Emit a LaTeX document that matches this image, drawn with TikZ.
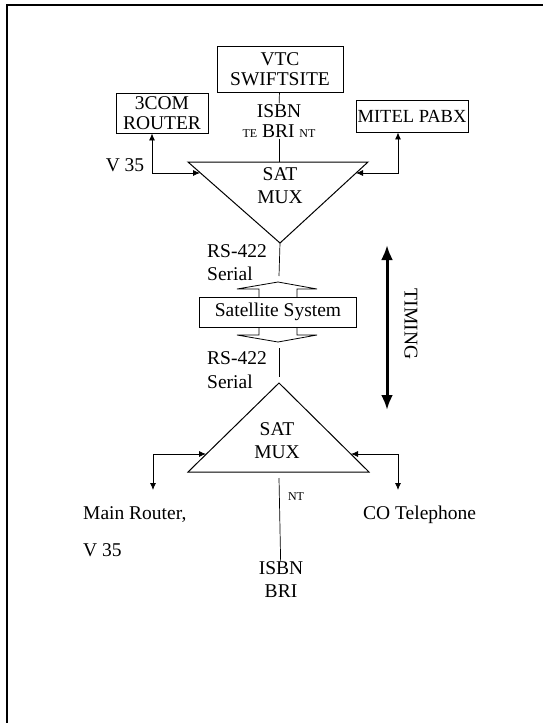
\documentclass[tikz,border=0pt]{standalone}
\usepackage{fontspec}
\setmainfont{Liberation Serif}
\usetikzlibrary{arrows.meta}
\tikzstyle{device} = [rectangle, draw=black, line width=0.9pt, inner sep=0pt, align=center, font=\fontsize{19.5}{20}\selectfont]
\tikzstyle{tag} = [inner sep=1pt, align=center, font=\fontsize{19.5}{23}\selectfont]
\tikzstyle{smalltag} = [inner sep=1pt, font=\fontsize{12}{12}\selectfont]
\tikzstyle{link} = [line width=0.7pt]
\tikzstyle{twoway} = [line width=0.8pt, {Latex[length=7pt,width=6pt]}-{Latex[length=7pt,width=6pt]}]
\tikzstyle{timing} = [line width=3pt, {Latex[length=15pt,width=12pt]}-{Latex[length=15pt,width=12pt]}]

\begin{document}
\begin{tikzpicture}[x=1pt, y=-1pt]
\useasboundingbox (0,0) rectangle (543,723);
% frame
\draw[line width=1.6pt] (7,723) -- (7,5) -- (543,5);

% top end
\node (vtc) [device, minimum width=126pt, minimum height=46pt] at (280,69) {VTC\\SWIFTSITE};
\node (router) [device, minimum width=92pt, minimum height=40pt] at (162,113) {3COM\\ROUTER};
\node (pabx) [device, minimum width=112pt, minimum height=32pt, font=\fontsize{18.5}{19}\selectfont] at (412,116) {MITEL PABX};
\node (isbn1) [tag] at (279,111) {ISBN};
\node (bri1) [tag] at (279,131) {{\fontsize{12}{12}\selectfont TE} BRI {\fontsize{12}{12}\selectfont NT}};
\node (v35a) [tag] at (125,165) {V 35};

\coordinate (mux1tl) at (188,162);
\coordinate (mux1tr) at (368,162);
\coordinate (mux1apex) at (280,243);
\draw[line width=1pt] (mux1tl) -- (mux1tr) -- (mux1apex) -- cycle;
\node (mux1) [tag] at (280,186) {SAT\\MUX};

\coordinate (rjoin) at (152,173);
\coordinate (mux1west) at (200,173);
\coordinate (pjoin) at (398,173);
\coordinate (mux1east) at (356,173);
\draw[link] (vtc) -- (isbn1);
\draw[link] (bri1) -- (mux1tl -| bri1);
\draw[twoway] (router.south -| rjoin) -- (rjoin) -- (mux1west);
\draw[twoway] (pabx.south -| pjoin) -- (pjoin) -- (mux1east);

% satellite link
\node (rs1) [tag, anchor=west] at (206,251) {RS-422};
\node (ser1) [tag, anchor=west] at (206,274) {Serial};
\node (sat) [device, minimum width=157pt, minimum height=30pt] at (278,312) {Satellite System};
\draw[line width=0.8pt] (259,297) -- (259,289) -- (237,289) -- (278,282) -- (317,289) -- (297,289) -- (297,297);
\draw[line width=0.8pt] (259,327) -- (259,335) -- (237,335) -- (278,342) -- (317,335) -- (297,335) -- (297,327);
\node (rs2) [tag, anchor=west] at (206,358) {RS-422};
\node (ser2) [tag, anchor=west] at (206,382) {Serial};
\coordinate (rs1end) at (279,276);
\coordinate (rs2top) at (279,348);
\coordinate (rs2end) at (279,377);
\draw[link] (mux1apex) -- (rs1end);
\draw[link] (rs2top) -- (rs2end);

% timing
\coordinate (ttop) at (387,245);
\coordinate (tbot) at (387,410);
\draw[timing] (ttop) -- (tbot);
\node (timing) [tag, rotate=-90] at (411,324) {TIMING};

% bottom end
\coordinate (mux2apex) at (279,383);
\coordinate (mux2bl) at (188,472);
\coordinate (mux2br) at (369,472);
\draw[line width=1pt] (mux2apex) -- (mux2bl) -- (mux2br) -- cycle;
\node (mux2) [tag] at (277,441) {SAT\\MUX};

\coordinate (mux2west) at (206,454);
\coordinate (ljoin) at (153,454);
\coordinate (lend) at (153,490);
\coordinate (mux2east) at (351,454);
\coordinate (cjoin) at (398,454);
\coordinate (cend) at (398,490);
\draw[twoway] (lend) -- (ljoin) -- (mux2west);
\draw[twoway] (cend) -- (cjoin) -- (mux2east);
\node (mainrt) [tag, anchor=west] at (82,515) {Main Router,};
\node (v35b) [tag, anchor=west] at (82,550) {V 35};
\node (cotel) [tag, anchor=west] at (362,515) {CO Telephone};

\coordinate (nttop) at (279,478);
\node (isbn2) [tag] at (281,580) {ISBN\\BRI};
\node (nt) [smalltag] at (296,497) {NT};
\draw[link] (nttop) -- (isbn2);
\end{tikzpicture}
\end{document}
